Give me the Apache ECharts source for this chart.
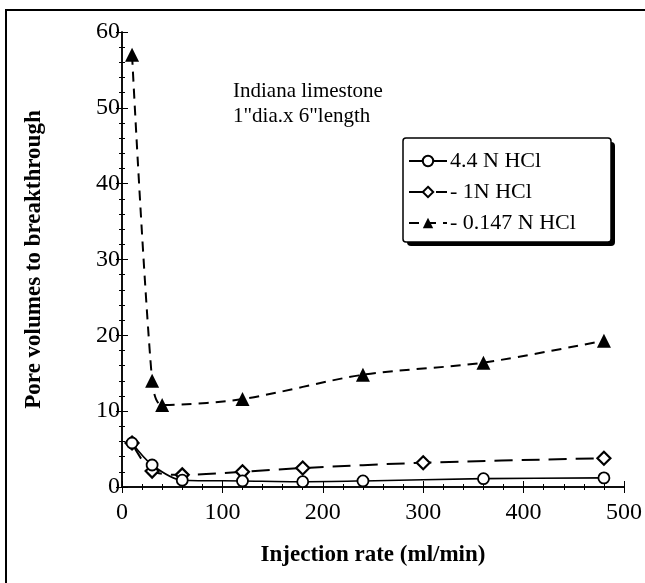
<!DOCTYPE html>
<html>
<head>
<meta charset="utf-8">
<script src="https://cdn.jsdelivr.net/npm/echarts@6/dist/echarts.min.js"></script>
<style>
  html, body { margin: 0; padding: 0; background: #fff; }
  #chart { width: 645px; height: 583px; }
</style>
</head>
<body>
<div id="chart"></div>
<script>
// injection rate (ml/min) and pore volumes to breakthrough
var rate44 = [10, 30, 60, 120, 180, 240, 360, 480];
var pv44 = [5.8, 2.9, 0.9, 0.8, 0.7, 0.8, 1.1, 1.2];

var rate1 = [10, 30, 60, 120, 180, 300, 480];
var pv1 = [5.8, 2.1, 1.6, 2.0, 2.5, 3.2, 3.8];

var rate0147 = [10, 30, 40, 120, 240, 360, 480];
var pv0147 = [57, 14.0, 10.8, 11.6, 14.8, 16.4, 19.3];

var names = ['4.4 N HCl', '- 1N HCl', '- 0.147 N HCl'];

function pairs(xs, ys) {
  return xs.map(function (x, i) { return [x, ys[i]]; });
}

var font = 'Liberation Serif';
var chart = echarts.init(document.getElementById('chart'));

var tickStyle = { color: '#000', width: 1 };

chart.setOption({
  animation: false,
  grid: { left: 122, right: 19, top: 32, bottom: 96 },
  title: {
    text: 'Indiana limestone\n1"dia.x 6"length',
    left: 228, top: 74,
    textStyle: { fontFamily: font, fontSize: 21, fontWeight: 'normal', color: '#000', lineHeight: 25 }
  },
  legend: {
    data: names,
    orient: 'vertical',
    left: 408, top: 150,
    padding: 0,
    itemGap: 9,
    itemWidth: 38, itemHeight: 13,
    z: 20,
    textStyle: { fontFamily: font, fontSize: 22, color: '#000', padding: [0, 0, 0, -2] }
  },
  xAxis: [{
    type: 'value', min: 0, max: 500, interval: 100,
    name: 'Injection rate (ml/min)', nameLocation: 'middle', nameGap: 57,
    nameTextStyle: { fontFamily: font, fontSize: 23, fontWeight: 'bold', color: '#000' },
    axisLine: { lineStyle: { color: '#000', width: 1.5 } },
    axisTick: { inside: true, length: 6, lineStyle: tickStyle },
    minorTick: { show: true, splitNumber: 5, length: 3, lineStyle: tickStyle },
    axisLabel: { fontFamily: font, fontSize: 24, color: '#000', margin: 14 },
    splitLine: { show: false }
  }, {
    type: 'value', min: 0, max: 500, interval: 100, position: 'top',
    axisLine: { lineStyle: { color: '#000', width: 1.5 } },
    axisTick: { inside: true, length: 6, lineStyle: tickStyle },
    minorTick: { show: true, splitNumber: 5, length: 3, lineStyle: tickStyle },
    axisLabel: { show: false },
    splitLine: { show: false }
  }],
  yAxis: [{
    type: 'value', min: 0, max: 60, interval: 10,
    name: 'Pore volumes to breakthrough', nameLocation: 'middle', nameGap: 76,
    nameTextStyle: { fontFamily: font, fontSize: 23, fontWeight: 'bold', color: '#000' },
    axisLine: { lineStyle: { color: '#000', width: 1.5 } },
    axisTick: { inside: true, length: 6, lineStyle: tickStyle },
    minorTick: { show: true, splitNumber: 5, length: 3, lineStyle: tickStyle },
    axisLabel: { fontFamily: font, fontSize: 24, color: '#000', margin: 2 },
    splitLine: { show: false }
  }, {
    type: 'value', min: 0, max: 60, interval: 10, position: 'right',
    axisLine: { lineStyle: { color: '#000', width: 1.5 } },
    axisTick: { inside: true, length: 6, lineStyle: tickStyle },
    minorTick: { show: true, splitNumber: 5, length: 3, lineStyle: tickStyle },
    axisLabel: { show: false },
    splitLine: { show: false }
  }],
  graphic: [{
    type: 'rect', silent: true, z: -10,
    shape: { x: 6, y: 10, width: 700, height: 700 },
    style: { fill: 'none', stroke: '#000', lineWidth: 2 }
  }, {
    // legend box shadow
    type: 'rect', silent: true, z: 1,
    shape: { x: 407, y: 142, width: 208, height: 104, r: 4 },
    style: { fill: '#000' }
  }, {
    // legend box
    type: 'rect', silent: true, z: 1,
    shape: { x: 403, y: 138, width: 208, height: 104, r: 3 },
    style: { fill: '#fff', stroke: '#000', lineWidth: 1.5 }
  }],
  series: [{
    name: names[0], type: 'line', smooth: 0.3,
    data: pairs(rate44, pv44),
    symbol: 'circle', symbolSize: 11,
    itemStyle: { color: '#fff', borderColor: '#000', borderWidth: 1.8 },
    lineStyle: { color: '#000', width: 1.6, type: 'solid' },
    z: 3
  }, {
    name: names[1], type: 'line', smooth: 0.3,
    data: pairs(rate1, pv1),
    symbol: 'diamond', symbolSize: 13,
    itemStyle: { color: '#fff', borderColor: '#000', borderWidth: 2.2 },
    lineStyle: { color: '#000', width: 2, type: [18, 9] },
    z: 2
  }, {
    name: names[2], type: 'line', smooth: 0.3,
    data: pairs(rate0147, pv0147),
    symbol: 'triangle', symbolSize: 14,
    itemStyle: { color: '#000', borderColor: '#000', borderWidth: 0 },
    lineStyle: { color: '#000', width: 2, type: [10, 7] },
    z: 2
  }]
});
</script>
</body>
</html>
